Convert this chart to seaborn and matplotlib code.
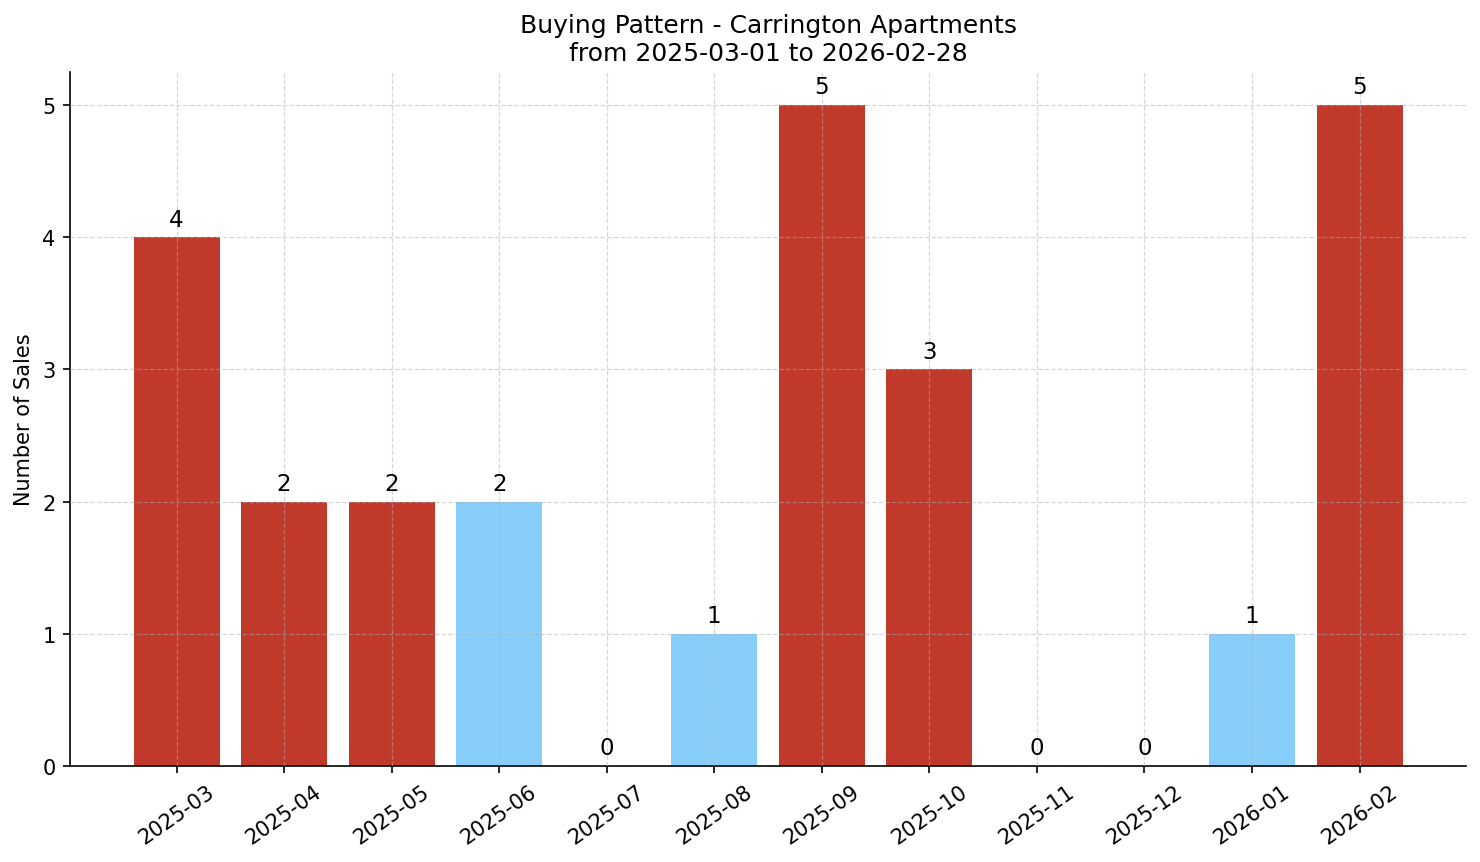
import matplotlib
matplotlib.use("Agg")
import matplotlib.pyplot as plt
import pandas as pd
import seaborn as sns

MONTHS = ["2025-03", "2025-04", "2025-05", "2025-06", "2025-07", "2025-08",
          "2025-09", "2025-10", "2025-11", "2025-12", "2026-01", "2026-02"]
SALES = [4, 2, 2, 2, 0, 1, 5, 3, 0, 0, 1, 5]
RED = "#c0392b"
BLUE = "#87cefa"
BAR_COLORS = [RED, RED, RED, BLUE, BLUE, BLUE, RED, RED, BLUE, BLUE, BLUE, RED]


def main():
    df = pd.DataFrame({"month": MONTHS, "sales": SALES})
    fig, ax = plt.subplots(figsize=(9.873, 5.753), dpi=150)
    sns.barplot(data=df, x="month", y="sales", hue="month", palette=BAR_COLORS,
                legend=False, width=0.8, saturation=1, ax=ax)

    for i, v in enumerate(SALES):
        ax.text(i, v + 0.05, str(v), ha="center", va="bottom", fontsize=11)

    ax.set_axisbelow(False)
    ax.grid(True, linestyle="--", linewidth=0.6, color="#b0b0b0", alpha=0.5)
    ax.set_xlim(-0.99, 11.99)
    ax.set_ylim(0, 5.25)
    ax.spines["top"].set_visible(False)
    ax.spines["right"].set_visible(False)
    ax.set_xlabel("")
    ax.set_ylabel("Number of Sales")
    ax.set_title("Buying Pattern - Carrington Apartments\nfrom 2025-03-01 to 2026-02-28", fontsize=12)
    plt.setp(ax.get_xticklabels(), rotation=35)
    fig.subplots_adjust(left=0.0473, right=0.9899, top=0.9154, bottom=0.1112)
    fig.savefig("out.png", dpi=150)


if __name__ == "__main__":
    main()
